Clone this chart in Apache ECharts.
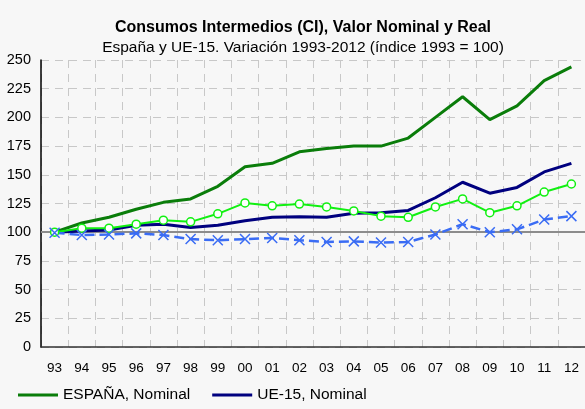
<!DOCTYPE html>
<html>
<head>
<meta charset="utf-8">
<script src="https://cdn.jsdelivr.net/npm/echarts@6/dist/echarts.min.js"></script>
<style>
  html, body { margin: 0; padding: 0; background: #f7f7f7; }
  #main { width: 585px; height: 409px; }
</style>
</head>
<body>
<div id="main"></div>
<script>
// años (93 = 1993 ... 12 = 2012)
var years = ['93', '94', '95', '96', '97', '98', '99', '00', '01', '02',
  '03', '04', '05', '06', '07', '08', '09', '10', '11', '12']

// índice 1993 = 100
var espanaNominal = [100, 108, 113, 120, 126, 129, 140, 157, 160, 170,
  173, 175, 175, 182, 200, 218, 198, 210, 232, 244]
var ue15Nominal = [100, 101, 102, 106, 107, 104, 106, 110, 113, 113.5,
  113, 116.5, 117, 119, 130, 143.5, 134, 139, 152.5, 160]
var espanaReal = [100, 103.5, 103.5, 107, 110.5, 109, 116, 125.5, 123, 124.5,
  122, 118.5, 114, 113, 122, 129, 117, 123, 135, 142]
var ue15Real = [99.5, 97.5, 98, 99, 97.5, 94, 93, 94, 95, 93,
  91.5, 92, 91, 91.5, 98, 107, 100, 102.5, 111, 114]

var yTicks = { min: 0, max: 250, interval: 25 }

var myChart = echarts.init(document.getElementById('main'))
myChart.setOption({
  backgroundColor: '#f7f7f7',
  textStyle: { fontFamily: 'Liberation Sans, Arial, sans-serif' },
  title: {
    text: 'Consumos Intermedios (CI), Valor Nominal y Real',
    subtext: 'España y UE-15. Variación 1993-2012 (índice 1993 = 100)',
    left: 298,
    textAlign: 'center',
    top: 15,
    itemGap: 4,
    textStyle: { fontSize: 16, fontWeight: 'bold', color: '#000' },
    subtextStyle: { fontSize: 15.5, color: '#000' }
  },
  legend: {
    data: ['ESPAÑA, Nominal', 'UE-15, Nominal'],
    left: 13,
    top: 382,
    icon: 'rect',
    itemWidth: 40,
    itemHeight: 3,
    itemGap: 22,
    textStyle: { fontSize: 15.5, color: '#000' }
  },
  grid: {
    left: 41,
    right: -6,
    top: 60,
    bottom: 62
  },
  xAxis: {
    type: 'category',
    data: years,
    boundaryGap: true,
    axisLine: { lineStyle: { color: '#333', width: 1.5 } },
    axisTick: { show: false },
    axisLabel: { color: '#000', fontSize: 13.5, margin: 14 },
    splitLine: {
      show: true,
      lineStyle: { color: '#c8c8c8', type: [8, 6] }
    }
  },
  yAxis: {
    type: 'value',
    min: yTicks.min,
    max: yTicks.max,
    interval: yTicks.interval,
    axisLine: { show: true, lineStyle: { color: '#000', width: 1.5 } },
    axisTick: { show: false },
    axisLabel: { color: '#000', fontSize: 14.5, margin: 10 },
    splitLine: {
      show: true,
      lineStyle: { color: '#c8c8c8', type: [8, 6] }
    }
  },
  series: [
    {
      name: 'ESPAÑA, Nominal',
      type: 'line',
      data: espanaNominal,
      symbol: 'none',
      z: 4,
      lineStyle: { color: '#0a7d0a', width: 3 },
      itemStyle: { color: '#0a7d0a' },
      markLine: {
        silent: true,
        symbol: 'none',
        label: { show: false },
        lineStyle: { color: '#8c8c8c', width: 2, type: 'solid' },
        data: [{ yAxis: 100 }],
        z: 1
      }
    },
    {
      name: 'UE-15, Nominal',
      type: 'line',
      data: ue15Nominal,
      symbol: 'none',
      z: 3,
      lineStyle: { color: '#00007f', width: 3 },
      itemStyle: { color: '#00007f' }
    },
    {
      name: 'ESPAÑA, Real',
      type: 'line',
      data: espanaReal,
      symbol: 'circle',
      symbolSize: 8,
      z: 5,
      lineStyle: { color: '#11f011', width: 2 },
      itemStyle: { color: '#fff', borderColor: '#11f011', borderWidth: 1.5 }
    },
    {
      name: 'UE-15, Real',
      type: 'line',
      data: ue15Real,
      symbol: 'path://M0,0L10,10M10,0L0,10',
      symbolSize: 10,
      z: 5,
      lineStyle: { color: '#3a6cf4', width: 2.5, type: [10, 5] },
      itemStyle: { color: '#fff', borderColor: '#3a6cf4', borderWidth: 1.5 }
    }
  ]
})
</script>
</body>
</html>
